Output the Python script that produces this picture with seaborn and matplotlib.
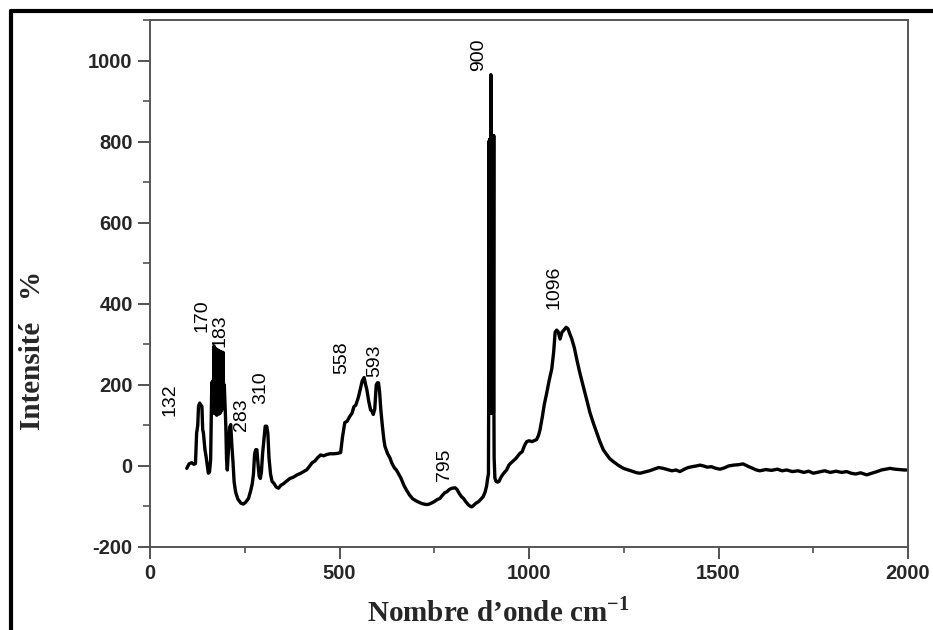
import matplotlib
matplotlib.use("Agg")
import matplotlib.pyplot as plt
from matplotlib.ticker import MultipleLocator
from matplotlib.lines import Line2D
import seaborn as sns
import pandas as pd

wavenumber = [
    97, 103, 110, 116, 120, 123, 126, 128, 131, 134, 137, 139, 141, 145, 148, 154, 157, 160,
    163, 164, 166, 167, 169, 170, 172, 173, 175, 176, 178, 179, 181, 182, 184, 185, 187, 188,
    190, 191, 193, 194, 196, 198,
    200, 202, 204, 207, 210, 213, 216, 219, 222, 226, 232, 240, 246, 252, 260, 266, 270, 273,
    276, 279, 282, 285, 288, 291, 294, 297, 300, 304, 308, 311, 314, 318, 322, 327, 333, 339,
    345, 352, 360, 369, 378, 388, 398, 407, 413, 420, 428, 435, 442, 450, 458, 466, 475, 485,
    495, 503, 508, 514, 520, 527, 533, 538, 543, 550, 555, 560, 565, 569, 572, 577, 582, 586,
    589, 593, 597, 600, 603, 606, 609, 613, 617, 620, 627, 633, 638, 645, 650, 655, 662, 670,
    677, 685, 693, 700, 708, 718, 727, 734, 742, 750, 758, 765, 772, 778, 783, 790, 797, 805,
    810, 816, 822, 827, 833, 840, 846, 849, 853, 860, 867, 873, 879, 884, 888, 891,
    893, 893.5, 894, 895, 896, 897, 898, 899, 899.5, 900, 901, 902, 903, 904, 905, 906, 907,
    907.5, 908, 910, 913, 917, 921, 925, 930, 936, 941, 947, 952,
    958, 965, 971, 976, 982, 988, 994, 1000, 1008, 1015, 1020, 1025, 1029, 1035, 1040, 1047,
    1053, 1060, 1065, 1069, 1073, 1077, 1082, 1087, 1092, 1098, 1103, 1108, 1113, 1120, 1126,
    1134, 1143, 1152, 1161, 1170, 1179, 1187, 1196, 1205, 1213, 1222, 1235, 1249, 1262, 1275,
    1285, 1293, 1305, 1318, 1330, 1342, 1354, 1366, 1377, 1388, 1398, 1410, 1420, 1430, 1442,
    1451, 1460, 1470, 1482, 1493, 1504, 1515, 1527, 1540, 1553, 1565, 1578, 1590, 1600, 1609,
    1625, 1640, 1655, 1668, 1680, 1695, 1710, 1725, 1738, 1750, 1765, 1780, 1795, 1810, 1825,
    1838, 1850, 1862, 1875, 1891, 1905, 1918, 1930, 1942, 1953, 1965, 1978, 1990, 2000,
]
intensity = [
    -6, 5, 8, 4, 6, 81, 100, 147, 155, 150, 147, 90, 81, 40, 23, -18, -15, 15,
    206, 140, 210, 130, 296, 135, 290, 128, 288, 125, 286, 130, 285, 128, 283, 130, 282, 135,
    280, 140, 280, 150, 200, 147,
    100, 15, -10, 40, 95, 102, 50, 10, -40, -65, -82, -92, -94, -90, -80, -60, -43, -20,
    30, 40, 40, 5, -25, -31, -15, 30, 60, 98, 98, 80, 20, -20, -38, -43, -52, -55,
    -48, -44, -38, -31, -28, -22, -18, -13, -10, -2, 8, 12, 20, 27, 25, 28, 30, 30,
    31, 33, 72, 107, 110, 122, 130, 146, 150, 170, 190, 210, 218, 200, 189, 160, 138, 135,
    127, 140, 200, 205, 205, 180, 139, 100, 65, 48, 30, 20, 7, -5, -10, -18, -30, -48,
    -60, -72, -81, -85, -89, -93, -95, -95, -92, -88, -83, -80, -72, -66, -64, -58, -55, -54,
    -58, -68, -76, -80, -88, -96, -100, -101, -98, -92, -88, -82, -76, -65, -50, -30,
    -20, 131, 800, 131, 805, 131, 808, 131, 965, 131, 812, 131, 815, 131, 815, 131, 815,
    131, 20, -30, -38, -40, -38, -30, -22, -15, -10, 2, 7,
    12, 18, 25, 31, 35, 50, 60, 62, 60, 63, 65, 75, 89, 120, 150, 181,
    210, 239, 280, 330, 335, 331, 313, 330, 335, 342, 338, 325, 313, 290, 263,
    230, 197, 165, 131, 105, 81, 60, 40, 28, 18, 11, 2, -6, -10, -14,
    -17, -18, -15, -12, -8, -4, -6, -9, -12, -10, -14, -8, -4, -2, 0,
    2, 0, -3, -2, -6, -8, -5, 0, 2, 3, 5, -1, -6, -10, -12,
    -9, -11, -8, -12, -10, -14, -12, -16, -13, -18, -15, -12, -16, -13, -16,
    -14, -18, -20, -17, -22, -18, -14, -10, -8, -6, -8, -9, -10, -10,
]

peak_labels = ["132", "170", "183", "283", "310", "558", "593", "795", "900", "1096"]
label_x = [53, 136, 186, 242, 293, 506, 594, 778, 868, 1066]
label_y = [164, 371, 334, 127, 193, 268, 259, 2, 1014, 441]

df = pd.DataFrame({"wavenumber": wavenumber, "intensity": intensity})

sns.set_style("ticks")
plt.rcParams["font.family"] = ["Liberation Sans", "DejaVu Sans"]
plt.rcParams["axes.unicode_minus"] = False
plt.rcParams["mathtext.fontset"] = "custom"
plt.rcParams["mathtext.rm"] = "Liberation Serif"
plt.rcParams["mathtext.bf"] = "Liberation Serif:bold"

fig = plt.figure(figsize=(9.33, 6.30), dpi=100)
ax = fig.add_axes([150 / 933, 1 - 547 / 630, 758 / 933, 527 / 630])

sns.lineplot(data=df, x="wavenumber", y="intensity", ax=ax, color="black",
             linewidth=2.4, estimator=None, sort=False)

ax.set_xlim(0, 2000)
ax.set_ylim(-200, 1100)
ax.xaxis.set_major_locator(MultipleLocator(500))
ax.xaxis.set_minor_locator(MultipleLocator(250))
ax.yaxis.set_major_locator(MultipleLocator(200))
ax.yaxis.set_minor_locator(MultipleLocator(100))

for sp in ax.spines.values():
    sp.set_color("#555555")
    sp.set_linewidth(1.4)

ax.tick_params(axis="both", which="major", direction="out", length=8.5, width=1.3,
               color="#444444", labelsize=14.5, pad=4)
ax.tick_params(axis="both", which="minor", direction="out", length=4, width=1.1,
               color="#444444")
ax.tick_params(axis="y", which="minor", length=5)
for lab in ax.get_xticklabels() + ax.get_yticklabels():
    lab.set_fontweight("bold")

ax.set_xlabel("")
ax.set_ylabel("")
fig.text(498 / 933, 1 - 612 / 630, "Nombre d\u2019onde cm$^{\\mathbf{-1}}$",
         family=["Liberation Serif", "DejaVu Serif"], fontweight="bold", fontsize=21,
         ha="center", va="center")
fig.text(33 / 933, 1 - 350 / 630, "Intensit\u00e9   %",
         family=["Liberation Serif", "DejaVu Serif"], fontweight="bold", fontsize=21,
         ha="center", va="center", rotation=90)

for t, x, y in zip(peak_labels, label_x, label_y):
    ax.text(x, y, t, rotation=90, ha="center", va="center", fontsize=14, color="black")

fig.add_artist(Line2D([11 / 933, 1.0], [1 - 11 / 630, 1 - 11 / 630],
                      transform=fig.transFigure, color="black", linewidth=3))
fig.add_artist(Line2D([11 / 933, 11 / 933], [0.0, 1 - 11 / 630],
                      transform=fig.transFigure, color="black", linewidth=3))

fig.savefig("out.png", dpi=100)
